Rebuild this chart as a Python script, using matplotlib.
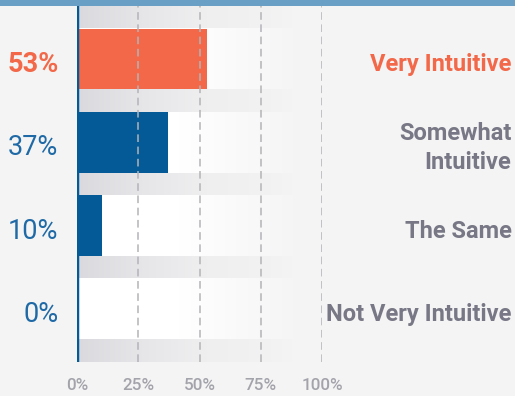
import numpy as np
import matplotlib.pyplot as plt
from matplotlib.colors import to_rgb

plt.rcParams['font.family'] = ['Roboto', 'DejaVu Sans']

categories = ['Very Intuitive', 'Somewhat\nIntuitive', 'The Same', 'Not Very Intuitive']
values = [53, 37, 10, 0]
highlight = [True, False, False, False]
ticks = [0, 25, 50, 75, 100]
tick_labels = ['0%', '25%', '50%', '75%', '100%']

orange = '#f26849'
blue = '#045a96'
blue_txt = '#1f6aa6'
grey_txt = '#777785'
bg = '#f4f4f4'

W, H = 515, 396
fig = plt.figure(figsize=(W / 100, H / 100), dpi=100)
fig.patch.set_facecolor(bg)

# axes: x=0 at px 77, x=100 at px 322; rows from px 6 to 362
ax = fig.add_axes([77 / W, 1 - 362 / H, 245 / W, 356 / H])
ax.set_facecolor('none')
n = len(categories)
bar_h = 0.73
gap_h = 1 - bar_h
for s in ax.spines.values():
    s.set_visible(False)
ax.set_xticks([])
ax.set_yticks([])


def gradient(stops, x_end, y0, y1):
    xs = np.linspace(0, 1, 200)
    cols = np.zeros((1, 200, 3))
    pos = [p for p, _ in stops]
    for k in range(3):
        cols[0, :, k] = np.interp(xs, pos, [to_rgb(c)[k] for _, c in stops])
    ax.imshow(cols, extent=(0, x_end, y1, y0), aspect='auto', zorder=0,
              interpolation='bilinear')


grey_stops = [(0, '#dadade'), (0.3, '#e6e6e9'), (0.6, '#efeff0'), (0.9, '#f2f2f2'), (1, bg)]
white_stops = [(0, '#ffffff'), (0.45, '#ffffff'), (0.75, '#f9f9f9'), (1, bg)]
for i in range(n + 1):
    yc = i - 0.5
    gradient(grey_stops, 88, yc - gap_h / 2, yc + gap_h / 2)
for i in range(n):
    gradient(white_stops, 93, i - bar_h / 2, i + bar_h / 2)

ax.barh(range(n), values, height=bar_h,
        color=[orange if h else blue for h in highlight], zorder=2)

for t in ticks[1:]:
    ax.axvline(t, color='#b4b4b8', lw=1.1, ls=(0, (5, 3)), zorder=3)
ax.axvline(0, color=blue, lw=2.5, zorder=4)

ax.set_xlim(0, 100)
ax.set_ylim(n - 0.5 + gap_h / 2, -0.5 - gap_h / 2)

dy = 0.065  # glyphs sit a little below the bar centre
for i, (cat, v, h) in enumerate(zip(categories, values, highlight)):
    c = orange if h else blue_txt
    ax.text(-7.6, i + dy, f'{v}%', ha='right', va='center', fontsize=19.5,
            color=c, fontweight='bold' if h else 'normal')
    ax.text(177.3, i + dy, cat, ha='right', va='center', fontsize=17,
            color=orange if h else grey_txt, fontweight='bold',
            linespacing=1.35)

for t, lab in zip(ticks, tick_labels):
    ax.text(t, 3.5 + gap_h / 2 + 0.285, lab, ha='center', va='center',
            fontsize=12.3, color='#a3a3ab', fontweight='medium')

# top band
fig.add_artist(plt.Rectangle((0, 1 - 6 / H), 1, 6 / H, transform=fig.transFigure,
                             color='#6a9fc5', lw=0))

fig.savefig('out.png', dpi=100, facecolor=bg)
